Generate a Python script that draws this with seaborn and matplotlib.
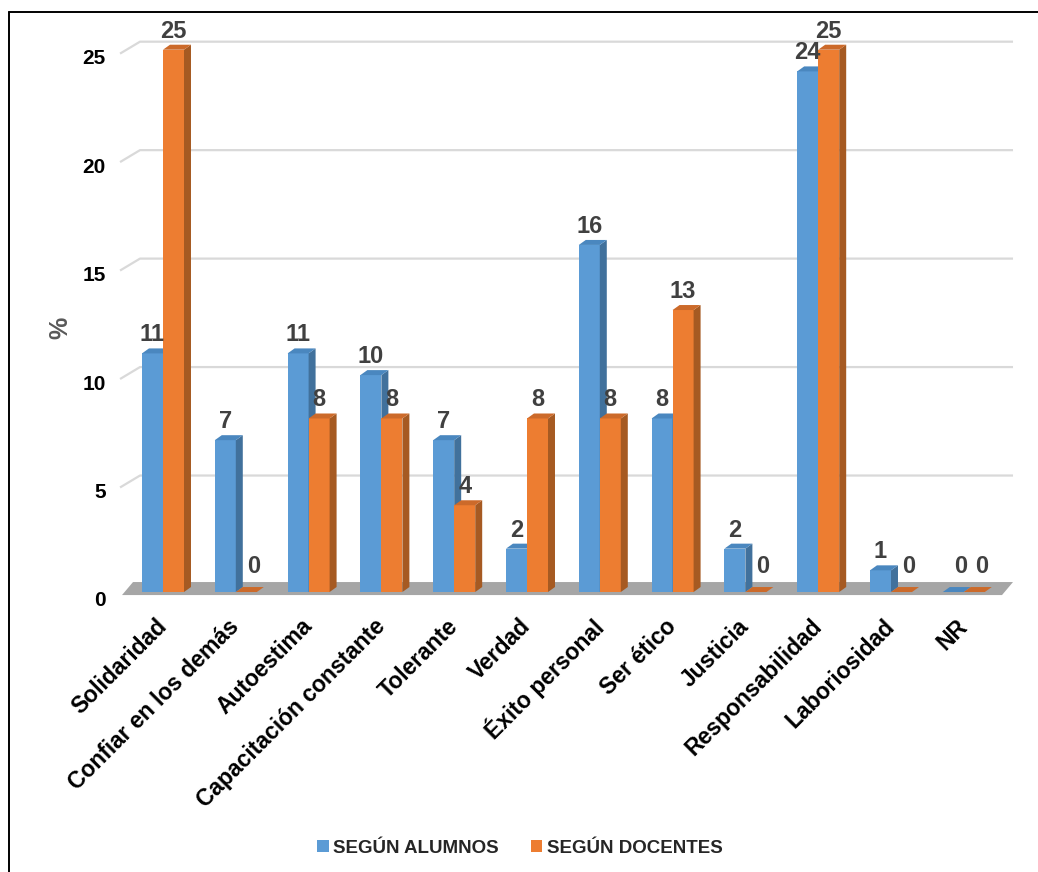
import matplotlib
matplotlib.use("Agg")
import matplotlib.pyplot as plt
import matplotlib.transforms as mtransforms
from matplotlib.patches import Polygon
from matplotlib.lines import Line2D
import seaborn as sns
import pandas as pd

categories = ["Solidaridad", "Confiar en los demás", "Autoestima", "Capacitación constante",
              "Tolerante", "Verdad", "Éxito personal", "Ser ético", "Justicia",
              "Responsabilidad", "Laboriosidad", "NR"]
alumnos = [11, 7, 11, 10, 7, 2, 16, 8, 2, 24, 1, 0]
docentes = [25, 0, 8, 8, 4, 8, 8, 13, 0, 25, 0, 0]
series_names = ["SEGÚN ALUMNOS", "SEGÚN DOCENTES"]
yticks = [0, 5, 10, 15, 20, 25]

face_colors = ["#5B9BD5", "#ED7D31"]
side_colors = ["#41719C", "#A65A22"]
top_colors = ["#4A87BF", "#CC6A2A"]

df = pd.DataFrame({
    "cat": categories * 2,
    "serie": [series_names[0]] * len(categories) + [series_names[1]] * len(categories),
    "val": alumnos + docentes,
})

sns.set_theme(style="white")
plt.rcParams["font.family"] = ["Liberation Sans", "DejaVu Sans"]
plt.rcParams["font.weight"] = "bold"

W, H = 1038, 872
fig = plt.figure(figsize=(W / 100, H / 100), dpi=100)
ax_left, ax_right = 126.6, 1000.2
ax_top, ax_bot = 15.0, 600.7
ax = fig.add_axes([ax_left / W, 1 - ax_bot / H, (ax_right - ax_left) / W, (ax_bot - ax_top) / H])

sns.barplot(data=df, x="cat", y="val", hue="serie", order=categories,
            hue_order=series_names, palette=face_colors, width=0.577,
            saturation=1, linewidth=0, ax=ax, legend=True)

ax.set_xlim(-0.5, 11.5)
ax.set_ylim(-0.4, 26.6)

# back wall gridlines (pseudo 3D)
for t in yticks[1:]:
    ax.plot([-0.59, -0.316, 11.676], [t - 0.18, t + 0.37, t + 0.37],
            color="#D9D9D9", lw=1.6, zorder=0.5, clip_on=False, solid_capstyle="butt")

# floor
floor = Polygon([(-0.563, -0.14), (11.525, -0.14), (11.676, 0.46), (-0.412, 0.46)],
                closed=True, facecolor="#A6A6A6", edgecolor="none", zorder=1, clip_on=False)
ax.add_patch(floor)

dx, dy = 0.096, 0.23
for s, cont in enumerate(ax.containers):
    z = 2 + s
    for p in cont:
        p.set_zorder(z)
        x0 = p.get_x()
        w = p.get_width()
        x1 = x0 + w
        h = p.get_height()
        side = Polygon([(x1, 0), (x1 + dx, dy), (x1 + dx, h + dy), (x1, h)], closed=True,
                       facecolor=side_colors[s], edgecolor="none", zorder=z + 0.1)
        top = Polygon([(x0, h), (x0 + dx, h + dy), (x1 + dx, h + dy), (x1, h)], closed=True,
                      facecolor=top_colors[s], edgecolor="none", zorder=z + 0.1)
        ax.add_patch(side)
        ax.add_patch(top)
        off = 1.5 if h > 0 else 6.5
        xoff = 0 if h > 0 else 5
        ax.annotate(f"{h:.0f}", (x0 + w / 2, h + dy), xytext=(xoff, off), textcoords="offset points",
                    ha="center", va="bottom", fontsize=17, fontweight="bold", color="#404040",
                    zorder=6)

for sp in ax.spines.values():
    sp.set_visible(False)

ax.set_yticks(yticks)
ax.set_yticklabels([str(t) for t in yticks], fontsize=15, fontweight="bold", color="black")
ax.tick_params(axis="y", length=0, pad=15)
ax.tick_params(axis="x", length=0, pad=16)
offset = mtransforms.ScaledTranslation(0, -5 / 72, fig.dpi_scale_trans)
for lab in ax.get_yticklabels():
    lab.set_transform(lab.get_transform() + offset)

ax.set_xticks(range(len(categories)))
ax.set_xticklabels(categories, rotation=45, ha="right", rotation_mode="anchor",
                   fontsize=16.5, fontweight="bold", color="black", va="center")
ax.set_xlabel("")
ax.set_ylabel("%")
ylab = ax.yaxis.label
ylab.set_fontsize(18)
ylab.set_fontweight("bold")
ylab.set_color("#595959")
ax.yaxis.set_label_coords((72 - ax_left) / (ax_right - ax_left), (ax_bot - 328) / (ax_bot - ax_top))
ax.grid(False)

handles, labels = ax.get_legend_handles_labels()
leg = ax.legend(handles, labels, loc="center", bbox_to_anchor=(520 / W, 1 - 848 / H),
                bbox_transform=fig.transFigure, ncol=2, frameon=False,
                handlelength=0.6, handleheight=0.6, handletextpad=0.25, columnspacing=1.7,
                prop={"weight": "bold", "size": 13.5})

# partial frame (left and top borders)
fig.add_artist(Line2D([8.5 / W, 8.5 / W], [0, 1 - 12 / H], color="black", lw=1.4,
                      transform=fig.transFigure))
fig.add_artist(Line2D([8.5 / W, 1], [1 - 12 / H, 1 - 12 / H], color="black", lw=1.4,
                      transform=fig.transFigure))

fig.savefig("out.png", dpi=100, facecolor="white")
